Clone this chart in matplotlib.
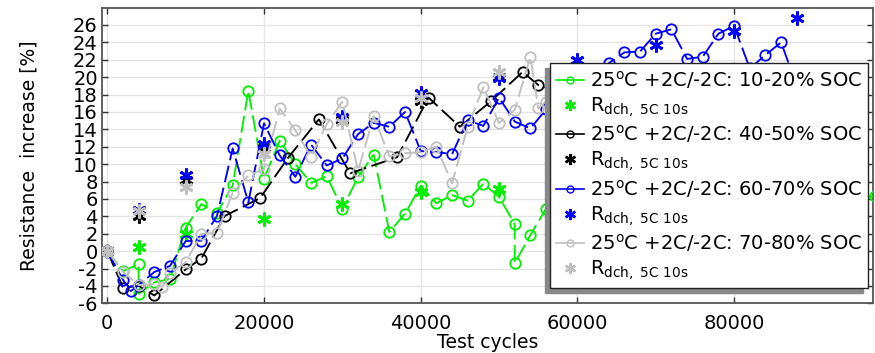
import matplotlib
matplotlib.use("Agg")
import matplotlib.pyplot as plt
from matplotlib.lines import Line2D

plt.rcParams['font.family'] = ['DejaVu Sans']
plt.rcParams['mathtext.fontset'] = 'dejavusans'

# ---------------- data ----------------
green_x = [0, 2000, 4000, 4000, 6000, 8000, 10000, 12000, 14000, 16000,
           18000, 20000, 22000, 24000, 26000, 28000, 30000, 32000, 34000, 36000,
           38000, 40000, 42000, 44000, 46000, 48000, 50000, 52000, 52000, 54000,
           56000, 58000, 98000]
green_y = [0, -2.3, -1.5, -4.9, -3.6, -3.2, 2.7, 5.4, 4.4, 7.55,
           18.45, 8.3, 12.7, 10.0, 7.85, 8.6, 4.9, 8.5, 11.1, 2.2,
           4.3, 7.5, 5.5, 6.45, 5.8, 7.75, 6.25, 3.1, -1.4, 1.85,
           4.9, 5.8, 6.3]
green_star_x = [0, 4000, 10000, 20000, 30000, 40000, 50000]
green_star_y = [0, 0.5, 2.0, 3.75, 5.4, 6.8, 7.2]

black_x = [0, 2000, 4000, 6000, 10000, 12000, 15000, 19500, 23000, 27000,
           31000, 37000, 41000, 45000, 49000, 53000, 55000, 57000]
black_y = [0, -4.2, -4.0, -5.1, -2.1, -0.85, 4.05, 6.1, 10.65, 15.15,
           8.95, 10.8, 17.65, 14.3, 17.25, 20.6, 19.1, 18.5]
black_star_x = [0, 4000, 10000, 20000, 30000, 40000, 50000]
black_star_y = [0, 4.0, 8.2, 11.8, 15.1, 17.3, 20.0]

blue_x = [0, 2000, 3000, 4000, 6000, 8000, 10000, 12000, 14000, 16000,
          18000, 20000, 22000, 24000, 26000, 28000, 30000, 32000, 34000, 36000,
          38000, 40000, 42000, 44000, 46000, 48000, 50000, 52000, 54000, 56000,
          58000, 60000, 62000, 64000, 66000, 68000, 70000, 72000, 74000, 76000,
          78000, 80000, 82000, 84000, 86000, 88000]
blue_y = [0, -3.3, -4.6, -3.9, -2.4, -1.7, 1.15, 1.2, 4.05, 11.8,
          5.6, 14.7, 11.0, 8.55, 12.25, 9.85, 10.65, 13.45, 14.75, 14.3,
          16.0, 11.5, 11.4, 11.15, 15.05, 14.4, 17.65, 14.9, 14.1, 16.3,
          18.0, 19.5, 20.5, 21.6, 22.85, 22.95, 25.0, 25.5, 22.1, 22.35,
          25.0, 25.9, 21.0, 22.55, 24.0, 19.0]
blue_star_x = [0, 4000, 10000, 20000, 30000, 40000, 50000, 60000, 70000, 80000, 88000]
blue_star_y = [0, 4.75, 8.7, 12.3, 15.4, 18.15, 19.85, 22.0, 23.7, 25.35, 26.75]

gray_x = [0, 2000, 4000, 6000, 7000, 8000, 10000, 12000, 14000, 16000,
          18000, 20000, 22000, 24000, 26000, 28000, 30000, 32000, 34000, 36000,
          38000, 40000, 42000, 44000, 46000, 48000, 50000, 52000, 54000, 55000,
          56000, 58000]
gray_y = [0, -2.4, -3.9, -3.8, -4.1, -2.5, -1.3, 2.0, 2.1, 6.7,
          8.7, 9.4, 16.4, 13.9, 10.85, 14.6, 17.2, 9.2, 15.5, 10.9,
          11.25, 11.4, 12.0, 7.8, 14.3, 18.85, 14.7, 16.25, 22.35, 16.4,
          17.2, 16.0]
gray_star_x = [0, 4000, 10000, 20000, 30000, 40000, 50000]
gray_star_y = [0, 4.6, 7.4, 11.2, 14.9, 17.6, 20.6]

series_labels = ['25$^{\\rm o}$C +2C/-2C: 10-20% SOC',
                 '25$^{\\rm o}$C +2C/-2C: 40-50% SOC',
                 '25$^{\\rm o}$C +2C/-2C: 60-70% SOC',
                 '25$^{\\rm o}$C +2C/-2C: 70-80% SOC']
star_label = 'R$_{\\rm dch,\\ 5C\\ 10s}$'
colors = ['#00f000', '#000000', '#0000ff', '#c0c0c0']

xticks = [0, 20000, 40000, 60000, 80000]
yticks = list(range(-6, 27, 2))

# ---------------- figure ----------------
W, H = 875, 353
fig = plt.figure(figsize=(W / 100, H / 100), dpi=100)
L, R, T, B = 102, 873, 8.3, 303.3
ax = fig.add_axes([L / W, (H - B) / H, (R - L) / W, (B - T) / H])

series = [(green_x, green_y, green_star_x, green_star_y),
          (black_x, black_y, black_star_x, black_star_y),
          (blue_x, blue_y, blue_star_x, blue_star_y),
          (gray_x, gray_y, gray_star_x, gray_star_y)]

handles = []
labels = []
for (sx, sy, stx, sty), c, lab in zip(series, colors, series_labels):
    ax.plot(sx, sy, color=c, lw=1.35, dashes=(9, 3), marker='o', ms=7.5,
            mfc='none', mec=c, mew=1.3, zorder=3)
    ax.plot(stx, sty, ls='none', marker=(6, 2, 0), ms=10, mec=c, mew=2.0,
            color=c, zorder=3)
    handles.append(Line2D([], [], color=c, lw=1.2, marker='o', ms=5,
                          mfc='none', mec=c, mew=1.0))
    labels.append(lab)
    handles.append(Line2D([], [], ls='none', color=c, marker=(6, 2, 0), ms=8,
                          mec=c, mew=1.8))
    labels.append(star_label)

ax.set_xlim(-680, 97730)
ax.set_ylim(-6, 27.92)
ax.set_xticks(xticks)
ax.set_yticks(yticks)
ax.set_xticklabels([str(t) for t in xticks])
ax.set_yticklabels([str(t) for t in yticks])
ax.tick_params(axis='both', direction='in', length=4, width=1, top=True, right=True,
               labelsize=14, color='#333333')
ax.tick_params(axis='x', pad=8)
ax.tick_params(axis='y', pad=3)
ax.grid(True, color='#e3e3e3', lw=0.9, zorder=0)
ax.set_axisbelow(True)
for sp in ax.spines.values():
    sp.set_color('#555555')
    sp.set_linewidth(1.3)

ax.set_xlabel('Test cycles', fontsize=13.5, labelpad=0)
ax.set_ylabel('Resistance  increase [%]', fontsize=13.5, labelpad=25)

ax_w = R - L
ax_h = B - T
leg = ax.legend(handles, labels, loc='upper right',
                bbox_to_anchor=((868 - L) / ax_w, (B - 63) / ax_h),
                borderaxespad=0, fontsize=14, frameon=True, fancybox=False,
                shadow={'ox': -3.5, 'oy': -3.5, 'color': '#888888', 'alpha': 1.0},
                edgecolor='#222222', framealpha=1.0, handlelength=1.45,
                handletextpad=0.3, labelspacing=0.22, borderpad=0.3)
leg.get_frame().set_linewidth(1.0)
leg.set_zorder(10)

fig.savefig('out.png', dpi=100)
